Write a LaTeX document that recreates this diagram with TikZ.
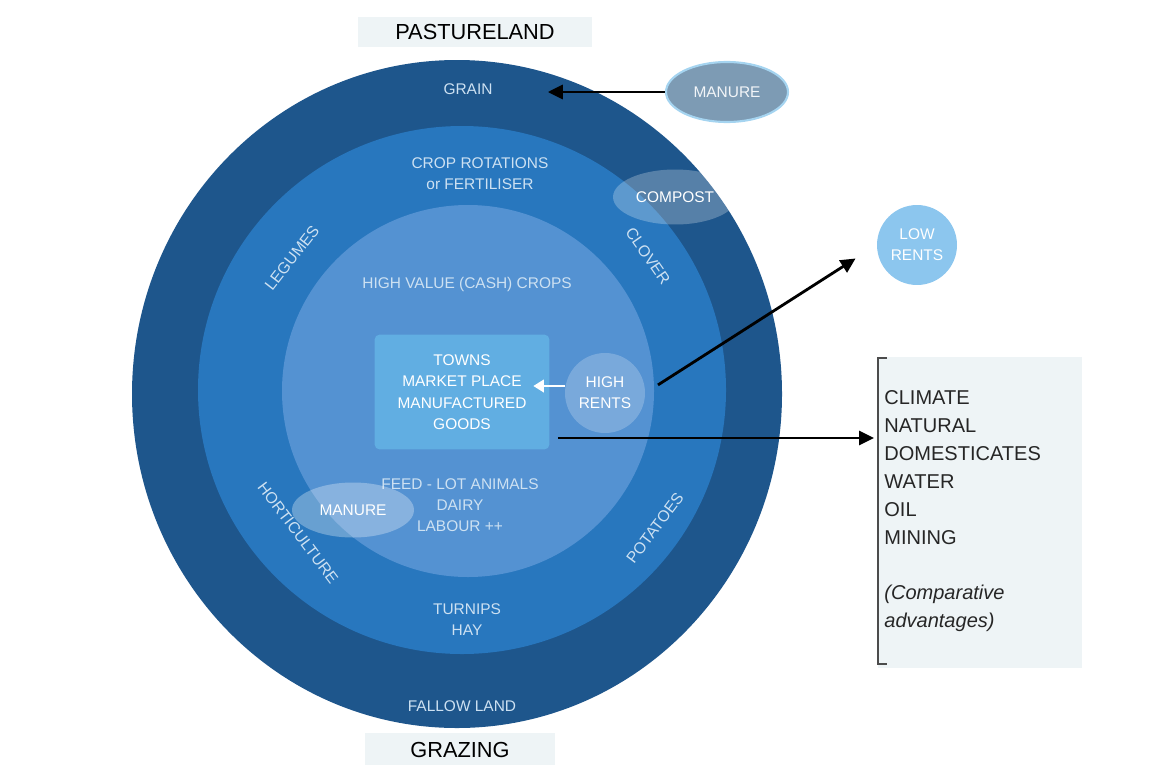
\documentclass[tikz,border=0pt]{standalone}
\usepackage{fontspec}
\setmainfont{Liberation Sans}
\usetikzlibrary{shapes.geometric}
\usetikzlibrary{arrows.meta}
\definecolor{ringout}{RGB}{30,86,140}
\definecolor{ringmid}{RGB}{40,119,190}
\definecolor{ringin}{RGB}{84,146,210}
\definecolor{towncol}{RGB}{97,174,226}
\definecolor{ringtext}{RGB}{205,225,242}
\definecolor{paper}{RGB}{238,244,246}
\definecolor{lowrent}{RGB}{140,198,238}
\definecolor{manurecol}{RGB}{125,155,180}
\definecolor{manureedge}{RGB}{165,212,240}
\tikzstyle{lbl}=[text=ringtext, font=\fontsize{8.8}{12}\selectfont, align=center, inner sep=0pt]
\tikzstyle{rlbl}=[lbl, font=\fontsize{9}{11}\selectfont]
\tikzstyle{blob}=[ellipse, inner sep=0pt, fill=white, fill opacity=0.25, text opacity=1, text=white, font=\fontsize{8.8}{12}\selectfont]
\tikzstyle{rent}=[circle, inner sep=0pt, minimum size=1.6cm, text=white, align=center, font=\fontsize{8.8}{12}\selectfont]
\tikzstyle{head}=[fill=paper, text=black, inner sep=0pt, font=\fontsize{12.4}{14}\selectfont]
\tikzstyle{arrow}=[-{Triangle[length=8.5pt,width=8pt]}, line width=1.6pt]

\begin{document}
\begin{tikzpicture}[x=0.02cm, y=-0.02cm]
        \useasboundingbox (0, 0) rectangle (1151, 764);
        % rings
        \fill[ringout] (457, 394) ellipse [x radius=325, y radius=334];
        \fill[ringmid] (462, 390) circle [radius=264];
        \fill[ringin] (468, 391) circle [radius=186];
        \node[fill=towncol, rounded corners=3pt, minimum width=3.5cm, minimum height=2.3cm, inner sep=0pt, text=white, align=center, font=\fontsize{8.8}{12.2}\selectfont] (towns) at (462, 392) {TOWNS\\MARKET PLACE\\MANUFACTURED\\GOODS};
        % headings
        \node[head, minimum width=4.68cm, minimum height=0.62cm] (pasture) at (475, 32) {PASTURELAND};
        \node[head, minimum width=3.82cm, minimum height=0.68cm] (grazing) at (460, 750) {GRAZING};
        % ring labels
        \node[lbl] (grain) at (468, 89) {GRAIN};
        \node[lbl] (rotation) at (480, 174) {CROP ROTATIONS\\or FERTILISER};
        \node[lbl] (cash) at (467, 284) {HIGH VALUE (CASH) CROPS};
        \node[lbl] (feedlot) at (460, 505) {FEED - LOT ANIMALS\\DAIRY\\LABOUR ++};
        \node[lbl] (turnips) at (467, 620) {TURNIPS\\HAY};
        \node[lbl] (fallow) at (462, 706) {FALLOW LAND};
        \node[rlbl, rotate=52] (legumes) at (292, 258) {LEGUMES};
        \node[rlbl, rotate=-55] (clover) at (648, 256) {CLOVER};
        \node[rlbl, rotate=-53] (horti) at (298, 533) {HORTICULTURE};
        \node[rlbl, rotate=53] (potatoes) at (655, 528) {POTATOES};
        % blobs
        \node[blob, minimum width=2.48cm, minimum height=1.1cm] (compost) at (675, 197) {COMPOST};
        \node[blob, fill opacity=0.3, minimum width=2.44cm, minimum height=1.1cm] (mlow) at (353, 510) {MANURE};
        \node[ellipse, fill=manurecol, draw=manureedge, line width=1.2pt, inner sep=0pt, minimum width=2.44cm, minimum height=1.2cm, text=white!90!manurecol, font=\fontsize{8.8}{12}\selectfont] (mtop) at (727, 92) {MANURE};
        \node[rent, fill=white, fill opacity=0.22, text opacity=1] (hr) at (605, 393) {HIGH\\RENTS};
        \node[rent, fill=lowrent] (lr) at (917, 245) {LOW\\RENTS};
        % comparative advantages
        \fill[paper] (878, 357) rectangle (1082, 668);
        \draw[black!70, line width=0.8pt] (887, 358) -- (878, 358) -- (878, 664) -- (887, 664);
        \node[anchor=north west, align=left, inner sep=0pt, text=black!85, font=\fontsize{11.4}{15.9}\selectfont] (adv) at (884, 390) {CLIMATE\\NATURAL\\DOMESTICATES\\WATER\\OIL\\MINING\\[15.9pt]\textit{(Comparative}\\\textit{advantages)}};
        \coordinate (advin) at (874, 438);
        % arrows
        \draw[arrow, shorten >=1.1cm] (mtop.west) -- (mtop.west -| grain.east);
        \draw[arrow, shorten <=0.3cm, shorten >=0.5cm] (hr.east) -- (lr.west);
        \draw[arrow] ([shift={(8, 46)}]towns.east) -- (advin);
        \draw[-{Triangle[length=6pt,width=7pt]}, white, line width=1.6pt] (hr.170) -- ++(-32, 0);
    \end{tikzpicture}
\end{document}
